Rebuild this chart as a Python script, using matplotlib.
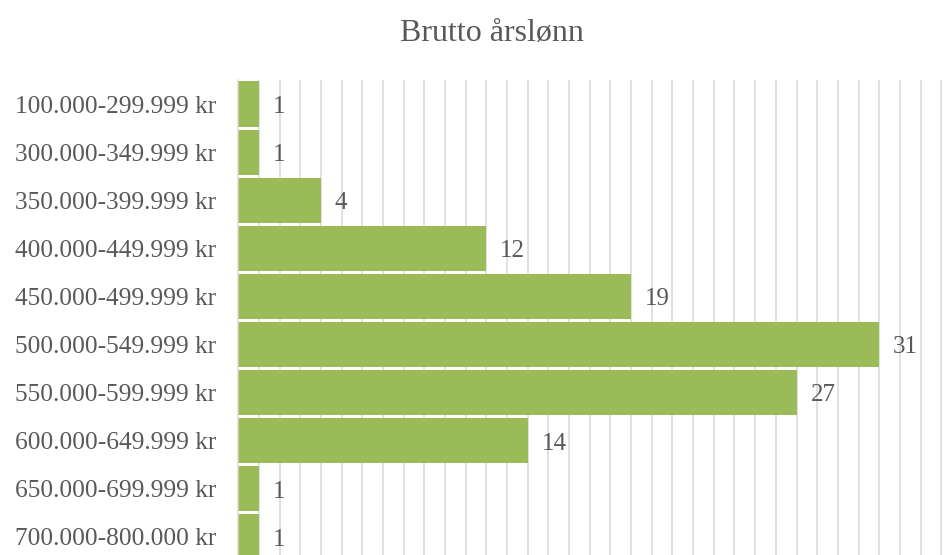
import numpy as np
import matplotlib as mpl
mpl.use('Agg')
import matplotlib.pyplot as plt

# salary bands and number of answers
bands = ['100.000-299.999 kr', '300.000-349.999 kr', '350.000-399.999 kr',
         '400.000-449.999 kr', '450.000-499.999 kr', '500.000-549.999 kr',
         '550.000-599.999 kr', '600.000-649.999 kr', '650.000-699.999 kr',
         '700.000-800.000 kr']
counts = [1, 1, 4, 12, 19, 31, 27, 14, 1, 1]
title = 'Brutto årslønn'

plt.rcParams['font.family'] = ['Liberation Serif', 'DejaVu Serif']

fig = plt.figure(figsize=(9.51, 5.55), dpi=100)
# axes runs a little below the figure bottom, like the cropped reference
ax = fig.add_axes([0.2506, 1 - 561/555, 0.7413, 481/555])

ypos = np.arange(len(bands))
bars = ax.barh(ypos, counts, height=0.94, color='#9BBB59', zorder=2)
vlabels = ax.bar_label(bars, labels=[str(c) for c in counts], padding=10,
                       fontsize=18, color='#595959')
for t in vlabels:
    t.xyann = (10, -2)

ax.set_ylim(len(bands) - 0.5, -0.5)
ax.set_xlim(0, 34.1)
ax.set_yticks(ypos)
ax.set_yticklabels(bands, fontsize=18.3, color='#595959')
ax.set_xticks(np.arange(1, 35))
ax.tick_params(axis='y', length=0, pad=16)
ax.tick_params(axis='x', length=0, labelbottom=False)
ax.grid(axis='x', color='#D9D9D9', linewidth=1.1, zorder=0)
ax.set_axisbelow(True)

for side in ['top', 'right', 'bottom']:
    ax.spines[side].set_visible(False)
ax.spines['left'].set_color('#D9D9D9')
ax.spines['left'].set_linewidth(1.1)

fig.text(0.517, 1 - 34/555, title, ha='center', va='center',
         fontsize=23, color='#595959')

plt.savefig('out.png', dpi=100)
